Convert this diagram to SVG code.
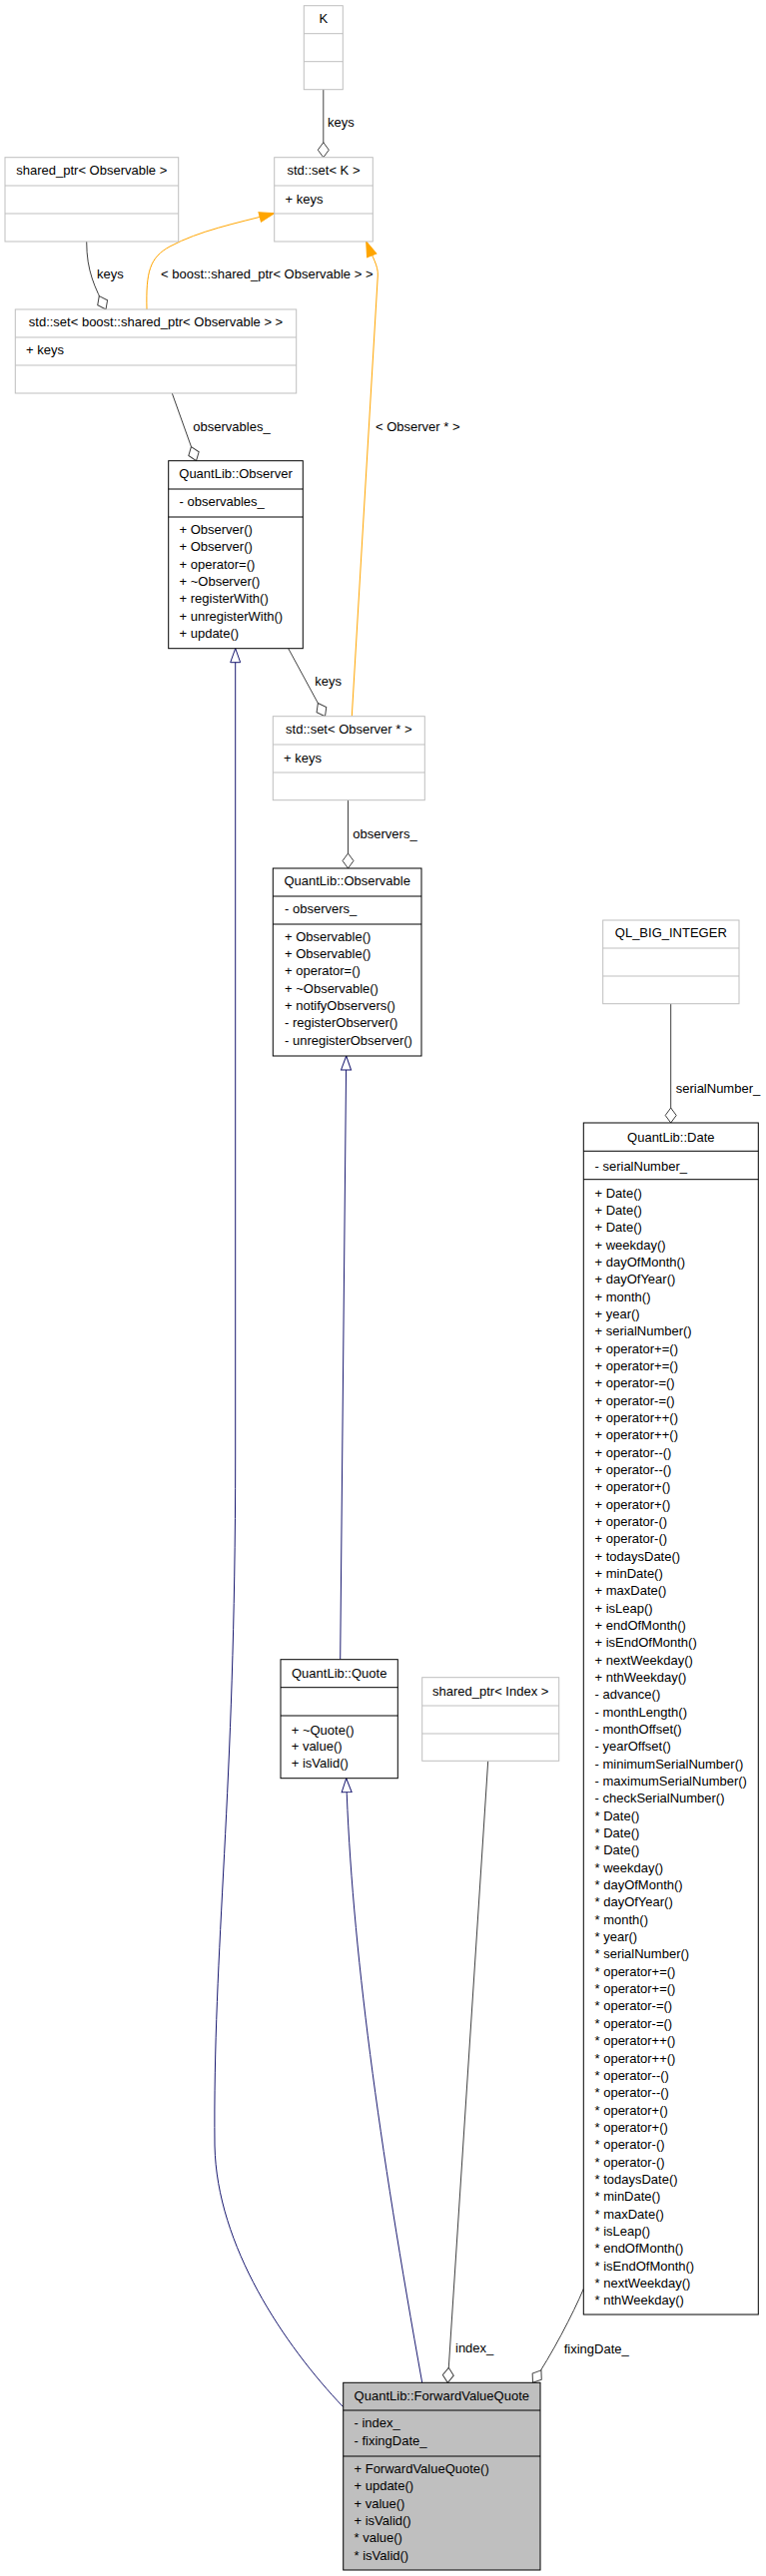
<svg xmlns="http://www.w3.org/2000/svg" width="767" height="2581" viewBox="0 0 767 2581">
<style>
text{font-family:"Liberation Sans",Arial,Helvetica,sans-serif;font-size:13px;fill:#000}
.c{text-anchor:middle}
.gb{fill:#fff;stroke:#bfbfbf;stroke-width:1}
.bb{fill:#fff;stroke:#000;stroke-width:1}
.fb{fill:#bfbfbf;stroke:#000;stroke-width:1}
.gs{stroke:#bfbfbf;stroke-width:1}
.bs{stroke:#000;stroke-width:1}
.col{fill:none;stroke:#404040;stroke-width:1;marker-end:url(#dia)}
.inh{fill:none;stroke:#191970;stroke-width:1;marker-end:url(#tri)}
.tpl{fill:none;stroke:#ffa500;stroke-width:1;marker-end:url(#arr)}
</style>
<defs>
<marker id="dia" markerUnits="userSpaceOnUse" viewBox="-1 -7 18 14" markerWidth="18" markerHeight="14" refX="15" refY="0" orient="auto" overflow="visible">
<path d="M0,0 L7.5,-5.5 L15,0 L7.5,5.5 Z" fill="#fff" stroke="#404040" stroke-width="1"/>
</marker>
<marker id="tri" markerUnits="userSpaceOnUse" viewBox="-1 -7 17 14" markerWidth="17" markerHeight="14" refX="14" refY="0" orient="auto" overflow="visible">
<path d="M0,-5 L14,0 L0,5 Z" fill="#fff" stroke="#191970" stroke-width="1"/>
</marker>
<marker id="arr" markerUnits="userSpaceOnUse" viewBox="-1 -7 18 14" markerWidth="18" markerHeight="14" refX="15" refY="0" orient="auto" overflow="visible">
<path d="M0,-5 L15,0 L0,5 Z" fill="#ffa500" stroke="#ffa500" stroke-width="1"/>
</marker>
</defs>
<rect x="0" y="0" width="767" height="2581" fill="#fff"/>

<g id="edges">
<path class="col" d="M323.8,89.7 L323.8,157.7"/>
<path class="col" d="M86.7,242 C86.7,272 95,288 106,310"/>
<path class="col" d="M172.3,394 L196.5,461.7"/>
<path class="col" d="M288.7,649.7 L325.5,717.7"/>
<path class="col" d="M348.5,801.7 L348.5,870"/>
<path class="col" d="M671.7,1005.7 L671.7,1125"/>
<path class="col" d="M488.7,1764.3 L448.3,2387.3"/>
<path class="col" d="M584.3,2293.3 C574,2318 552,2360 533.5,2387.3"/>
<path class="inh" d="M343.7,2411.7 C285,2350 217,2250 215,2150 C213,1950 235.7,1800 235.7,1460 L235.7,649.7"/>
<path class="inh" d="M422.7,2387.3 C380,2150 352,1950 346.7,1781.7"/>
<path class="inh" d="M340.7,1662.7 L346.7,1058"/>
<path class="tpl" d="M147,310 C146,272 150,258 170,247 C200,231 235,224 274.7,213.7"/>
<path class="tpl" d="M352.3,717.7 L378.3,276 C378.8,266 373,258 366.7,242"/>
<text x="328" y="127">keys</text>
<text x="97" y="278.8">keys</text>
<text x="161" y="278.8">&lt; boost::shared_ptr&lt; Observable &gt; &gt;</text>
<text x="193.3" y="431.5">observables_</text>
<text x="376" y="431.5">&lt; Observer * &gt;</text>
<text x="315.3" y="686.8">keys</text>
<text x="353.3" y="839.5">observers_</text>
<text x="676.7" y="1095.2">serialNumber_</text>
<text x="456" y="2357">index_</text>
<text x="564.7" y="2357.5">fixingDate_</text>
</g>

<g id="node_K">
<rect class="gb" x="304.3" y="5.7" width="39" height="84"/>
<line class="gs" x1="304.3" y1="33.7" x2="343.3" y2="33.7"/>
<line class="gs" x1="304.3" y1="61.7" x2="343.3" y2="61.7"/>
<text class="c" x="323.8" y="22.8">K</text>
</g>

<g id="node_setK">
<rect class="gb" x="274.7" y="157.7" width="98.6" height="84.3"/>
<line class="gs" x1="274.7" y1="186" x2="373.3" y2="186"/>
<line class="gs" x1="274.7" y1="214" x2="373.3" y2="214"/>
<text class="c" x="324" y="174.8">std::set&lt; K &gt;</text>
<text x="285.5" y="203.5">+ keys</text>
</g>

<g id="node_sharedObservable">
<rect class="gb" x="5" y="157.7" width="173.7" height="84.3"/>
<line class="gs" x1="5" y1="186" x2="178.7" y2="186"/>
<line class="gs" x1="5" y1="214" x2="178.7" y2="214"/>
<text class="c" x="91.8" y="175.2">shared_ptr&lt; Observable &gt;</text>
</g>

<g id="node_setBoost">
<rect class="gb" x="15.3" y="310" width="281.4" height="84"/>
<line class="gs" x1="15.3" y1="338" x2="296.7" y2="338"/>
<line class="gs" x1="15.3" y1="366" x2="296.7" y2="366"/>
<text class="c" x="156" y="327.2">std::set&lt; boost::shared_ptr&lt; Observable &gt; &gt;</text>
<text x="26" y="355.2">+ keys</text>
</g>

<g id="node_Observer">
<rect class="bb" x="168.7" y="461.7" width="134.6" height="188"/>
<line class="bs" x1="168.7" y1="490" x2="303.3" y2="490"/>
<line class="bs" x1="168.7" y1="518" x2="303.3" y2="518"/>
<text class="c" x="236" y="478.8">QuantLib::Observer</text>
<text x="179.5" y="506.8">- observables_</text>
<text x="179.5" y="534.8">+ Observer()<tspan x="179.5" dy="17.4">+ Observer()</tspan><tspan x="179.5" dy="17.4">+ operator=()</tspan><tspan x="179.5" dy="17.4">+ ~Observer()</tspan><tspan x="179.5" dy="17.4">+ registerWith()</tspan><tspan x="179.5" dy="17.4">+ unregisterWith()</tspan><tspan x="179.5" dy="17.4">+ update()</tspan></text>
</g>

<g id="node_setObserver">
<rect class="gb" x="273.3" y="717.7" width="152" height="84"/>
<line class="gs" x1="273.3" y1="746" x2="425.3" y2="746"/>
<line class="gs" x1="273.3" y1="774" x2="425.3" y2="774"/>
<text class="c" x="349.3" y="735.2">std::set&lt; Observer * &gt;</text>
<text x="284" y="763.5">+ keys</text>
</g>

<g id="node_Observable">
<rect class="bb" x="273.3" y="870" width="148.7" height="188"/>
<line class="bs" x1="273.3" y1="898" x2="422" y2="898"/>
<line class="bs" x1="273.3" y1="926" x2="422" y2="926"/>
<text class="c" x="347.7" y="886.8">QuantLib::Observable</text>
<text x="285" y="915.2">- observers_</text>
<text x="285" y="942.8">+ Observable()<tspan x="285" dy="17.33">+ Observable()</tspan><tspan x="285" dy="17.33">+ operator=()</tspan><tspan x="285" dy="17.33">+ ~Observable()</tspan><tspan x="285" dy="17.33">+ notifyObservers()</tspan><tspan x="285" dy="17.33">- registerObserver()</tspan><tspan x="285" dy="17.33">- unregisterObserver()</tspan></text>
</g>

<g id="node_QL_BIG_INTEGER">
<rect class="gb" x="603.7" y="922" width="136.3" height="83.7"/>
<line class="gs" x1="603.7" y1="950" x2="740" y2="950"/>
<line class="gs" x1="603.7" y1="978" x2="740" y2="978"/>
<text class="c" x="671.8" y="938.8">QL_BIG_INTEGER</text>
</g>

<g id="node_Date">
<rect class="bb" x="584.3" y="1125" width="175" height="1194"/>
<line class="bs" x1="584.3" y1="1153.3" x2="759.3" y2="1153.3"/>
<line class="bs" x1="584.3" y1="1181.7" x2="759.3" y2="1181.7"/>
<text class="c" x="671.8" y="1143.8">QuantLib::Date</text>
<text x="595.5" y="1172.8">- serialNumber_</text>
<text x="595.5" y="1199.5">+ Date()<tspan x="595.5" dy="17.34">+ Date()</tspan><tspan x="595.5" dy="17.34">+ Date()</tspan><tspan x="595.5" dy="17.34">+ weekday()</tspan><tspan x="595.5" dy="17.34">+ dayOfMonth()</tspan><tspan x="595.5" dy="17.34">+ dayOfYear()</tspan><tspan x="595.5" dy="17.34">+ month()</tspan><tspan x="595.5" dy="17.34">+ year()</tspan><tspan x="595.5" dy="17.34">+ serialNumber()</tspan><tspan x="595.5" dy="17.34">+ operator+=()</tspan><tspan x="595.5" dy="17.34">+ operator+=()</tspan><tspan x="595.5" dy="17.34">+ operator-=()</tspan><tspan x="595.5" dy="17.34">+ operator-=()</tspan><tspan x="595.5" dy="17.34">+ operator++()</tspan><tspan x="595.5" dy="17.34">+ operator++()</tspan><tspan x="595.5" dy="17.34">+ operator--()</tspan><tspan x="595.5" dy="17.34">+ operator--()</tspan><tspan x="595.5" dy="17.34">+ operator+()</tspan><tspan x="595.5" dy="17.34">+ operator+()</tspan><tspan x="595.5" dy="17.34">+ operator-()</tspan><tspan x="595.5" dy="17.34">+ operator-()</tspan><tspan x="595.5" dy="17.34">+ todaysDate()</tspan><tspan x="595.5" dy="17.34">+ minDate()</tspan><tspan x="595.5" dy="17.34">+ maxDate()</tspan><tspan x="595.5" dy="17.34">+ isLeap()</tspan><tspan x="595.5" dy="17.34">+ endOfMonth()</tspan><tspan x="595.5" dy="17.34">+ isEndOfMonth()</tspan><tspan x="595.5" dy="17.34">+ nextWeekday()</tspan><tspan x="595.5" dy="17.34">+ nthWeekday()</tspan><tspan x="595.5" dy="17.34">- advance()</tspan><tspan x="595.5" dy="17.34">- monthLength()</tspan><tspan x="595.5" dy="17.34">- monthOffset()</tspan><tspan x="595.5" dy="17.34">- yearOffset()</tspan><tspan x="595.5" dy="17.34">- minimumSerialNumber()</tspan><tspan x="595.5" dy="17.34">- maximumSerialNumber()</tspan><tspan x="595.5" dy="17.34">- checkSerialNumber()</tspan><tspan x="595.5" dy="17.34">* Date()</tspan><tspan x="595.5" dy="17.34">* Date()</tspan><tspan x="595.5" dy="17.34">* Date()</tspan><tspan x="595.5" dy="17.34">* weekday()</tspan><tspan x="595.5" dy="17.34">* dayOfMonth()</tspan><tspan x="595.5" dy="17.34">* dayOfYear()</tspan><tspan x="595.5" dy="17.34">* month()</tspan><tspan x="595.5" dy="17.34">* year()</tspan><tspan x="595.5" dy="17.34">* serialNumber()</tspan><tspan x="595.5" dy="17.34">* operator+=()</tspan><tspan x="595.5" dy="17.34">* operator+=()</tspan><tspan x="595.5" dy="17.34">* operator-=()</tspan><tspan x="595.5" dy="17.34">* operator-=()</tspan><tspan x="595.5" dy="17.34">* operator++()</tspan><tspan x="595.5" dy="17.34">* operator++()</tspan><tspan x="595.5" dy="17.34">* operator--()</tspan><tspan x="595.5" dy="17.34">* operator--()</tspan><tspan x="595.5" dy="17.34">* operator+()</tspan><tspan x="595.5" dy="17.34">* operator+()</tspan><tspan x="595.5" dy="17.34">* operator-()</tspan><tspan x="595.5" dy="17.34">* operator-()</tspan><tspan x="595.5" dy="17.34">* todaysDate()</tspan><tspan x="595.5" dy="17.34">* minDate()</tspan><tspan x="595.5" dy="17.34">* maxDate()</tspan><tspan x="595.5" dy="17.34">* isLeap()</tspan><tspan x="595.5" dy="17.34">* endOfMonth()</tspan><tspan x="595.5" dy="17.34">* isEndOfMonth()</tspan><tspan x="595.5" dy="17.34">* nextWeekday()</tspan><tspan x="595.5" dy="17.34">* nthWeekday()</tspan></text>
</g>

<g id="node_Quote">
<rect class="bb" x="281" y="1662.7" width="117.3" height="119"/>
<line class="bs" x1="281" y1="1690.7" x2="398.3" y2="1690.7"/>
<line class="bs" x1="281" y1="1719" x2="398.3" y2="1719"/>
<text class="c" x="339.7" y="1681.2">QuantLib::Quote</text>
<text x="291.7" y="1737.8">+ ~Quote()<tspan x="291.7" dy="16.35">+ value()</tspan><tspan x="291.7" dy="16.35">+ isValid()</tspan></text>
</g>

<g id="node_sharedIndex">
<rect class="gb" x="422.7" y="1680.7" width="137" height="83.6"/>
<line class="gs" x1="422.7" y1="1709" x2="559.7" y2="1709"/>
<line class="gs" x1="422.7" y1="1737" x2="559.7" y2="1737"/>
<text class="c" x="491.2" y="1698.8">shared_ptr&lt; Index &gt;</text>
</g>

<g id="node_ForwardValueQuote">
<rect class="fb" x="343.7" y="2387.3" width="197.3" height="187.7"/>
<line class="bs" x1="343.7" y1="2415" x2="541" y2="2415"/>
<line class="bs" x1="343.7" y1="2461" x2="541" y2="2461"/>
<text class="c" x="442.3" y="2404.5">QuantLib::ForwardValueQuote</text>
<text x="354.5" y="2432.2">- index_<tspan x="354.5" dy="17.4">- fixingDate_</tspan></text>
<text x="354.5" y="2477.8">+ ForwardValueQuote()<tspan x="354.5" dy="17.4">+ update()</tspan><tspan x="354.5" dy="17.4">+ value()</tspan><tspan x="354.5" dy="17.4">+ isValid()</tspan><tspan x="354.5" dy="17.4">* value()</tspan><tspan x="354.5" dy="17.4">* isValid()</tspan></text>
</g>
</svg>
